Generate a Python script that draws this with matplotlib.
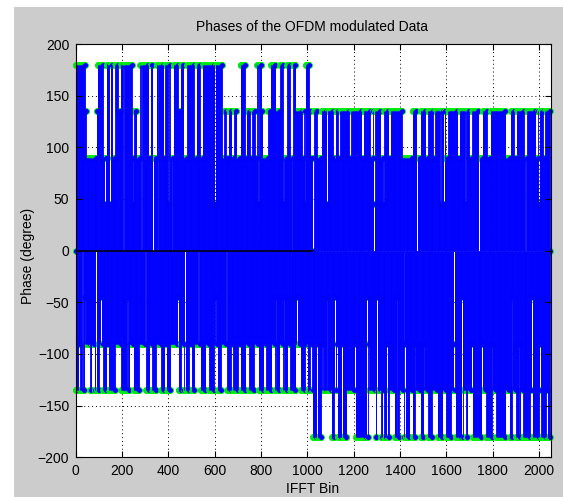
import numpy as np
import matplotlib
matplotlib.use("Agg")
import matplotlib.pyplot as plt
from matplotlib.patches import Rectangle

# ---------------- data ----------------
n_bins = 2048
half = 1024
x_ticks = [0, 200, 400, 600, 800, 1000, 1200, 1400, 1600, 1800, 2000]
y_ticks = [-200, -150, -100, -50, 0, 50, 100, 150, 200]
zero_bins = [0, 1024, 2047]

# phases (deg) of the upper-going stems: default for each half, then runs (first_bin, last_bin)
upper_default = [135, 135]
upper_runs_180 = [(0, 40), (95, 119), (133, 159), (171, 183), (196, 242), (279, 314), (323, 335),
                  (349, 378), (387, 407), (423, 442), (454, 465), (481, 511), (524, 537), (550, 630),
                  (711, 731), (783, 803), (841, 862), (883, 897), (913, 925), (939, 948), (991, 1006)]
upper_runs_90 = [(45, 90), (120, 132), (160, 170), (243, 253), (264, 278), (315, 322), (336, 348),
                 (379, 386), (408, 422), (466, 480), (512, 523), (538, 549), (631, 641), (650, 660),
                 (674, 682), (696, 710), (732, 739), (754, 761), (775, 782), (808, 830), (898, 912),
                 (926, 938), (977, 984), (1013, 1023),
                 (1042, 1061), (1111, 1121), (1133, 1140), (1179, 1189), (1233, 1243), (1272, 1282),
                 (1315, 1330), (1351, 1359), (1409, 1452), (1474, 1488), (1510, 1521), (1543, 1550),
                 (1596, 1606), (1647, 1657), (1697, 1711), (1740, 1757), (1776, 1791), (1855, 1877),
                 (1891, 1902), (1935, 1946), (1985, 1995), (2017, 2025)]
upper_runs_45 = [(126, 129), (147, 150), (248, 251), (399, 402), (600, 603), (788, 791), (896, 899),
                 (989, 992), (1083, 1086), (1292, 1295), (1328, 1331), (1573, 1576), (1587, 1590),
                 (1681, 1684), (1997, 2000)]
# columns without any upward stem
upper_runs_none = [(205, 208), (284, 287), (334, 337), (356, 359), (413, 416), (932, 935),
                   (1026, 1029), (1286, 1289), (1472, 1475), (1739, 1742), (1940, 1943)]

# phases (deg) of the lower-going stems
lower_default = [-135, -180]
lower_runs_135 = [(1058, 1104), (1117, 1128), (1171, 1205), (1267, 1294), (1303, 1317), (1324, 1332),
                  (1353, 1375), (1396, 1418), (1440, 1454), (1467, 1488), (1504, 1519), (1539, 1562),
                  (1584, 1598), (1620, 1639), (1672, 1684), (1690, 1712), (1756, 1771), (1798, 1814),
                  (1857, 1872), (1884, 1899), (1920, 1930), (1960, 1972), (2000, 2008), (2030, 2036)]
lower_runs_90 = [(12, 20), (38, 62), (70, 82), (102, 118), (135, 142), (170, 195), (232, 250),
                 (275, 300), (318, 330), (348, 370), (385, 392), (410, 440), (455, 468), (490, 500),
                 (515, 540), (560, 575), (598, 612), (628, 652), (670, 680), (700, 712), (735, 748),
                 (770, 790), (812, 822), (846, 860), (880, 894), (915, 925), (950, 970), (990, 1000),
                 (1012, 1020),
                 (1040, 1043), (1064, 1067), (1127, 1130), (1148, 1151), (1205, 1208), (1263, 1266),
                 (1342, 1345), (1421, 1424), (1465, 1468), (1501, 1504), (1637, 1640), (1709, 1712),
                 (1753, 1756), (1796, 1799), (1911, 1914), (2002, 2005)]
lower_runs_45 = [(40, 43), (108, 111), (222, 226), (441, 444), (603, 606), (862, 865), (897, 900),
                 (955, 958), (1083, 1086), (1119, 1122), (1256, 1259), (1299, 1302), (1385, 1388),
                 (1666, 1669), (1882, 1885), (1969, 1972)]
# columns without any downward stem
lower_runs_none = [(28, 31), (86, 89), (301, 304), (470, 473), (528, 531), (650, 653),
                   (1414, 1417), (1630, 1633)]

# ---------------- build the phase vector ----------------
upper = np.empty(n_bins)
upper[:half] = upper_default[0]
upper[half:] = upper_default[1]
for runs, p in [(upper_runs_180, 180), (upper_runs_90, 90), (upper_runs_45, 45)]:
    for a, b in runs:
        upper[a:b + 1] = p
lower = np.empty(n_bins)
lower[:half] = lower_default[0]
lower[half:] = lower_default[1]
for runs, p in [(lower_runs_135, -135), (lower_runs_90, -90), (lower_runs_45, -45)]:
    for a, b in runs:
        lower[a:b + 1] = p
up0, lo0 = upper.copy(), lower.copy()
for a, b in upper_runs_none:
    upper[a:b + 1] = lo0[a:b + 1]
for a, b in lower_runs_none:
    lower[a:b + 1] = up0[a:b + 1]
bins = np.arange(n_bins)
phase = np.where(bins % 2 == 0, upper, lower)
phase[zero_bins] = 0

# ---------------- figure ----------------
W, H = 563, 497
fig = plt.figure(figsize=(W / 100, H / 100), dpi=100)
fig.patch.set_facecolor("white")
fig.patches.append(Rectangle((14 / W, 0), 1 - 14 / W, 1 - 7 / H, transform=fig.transFigure,
                             facecolor="#cccccc", edgecolor="none", zorder=-10))

L, R, T, B = 75.5, 550.7, 44.0, 457.3
ax = fig.add_axes([L / W, 1 - B / H, (R - L) / W, (B - T) / H])
ax.set_facecolor("white")

for t in x_ticks[1:]:
    ax.axvline(t, color="black", lw=0.7, ls=(0, (1, 3)), zorder=1)
for t in y_ticks[1:-1]:
    ax.axhline(t, color="black", lw=0.7, ls=(0, (1, 3)), zorder=1)

ax.plot(bins, phase, "o", ms=4.3, mfc="#0000ff", mec="#00ff00", mew=0.6,
        zorder=1.8, clip_on=False)
ax.vlines(bins, 0, phase, colors="#0000ff", linewidth=0.65, zorder=2)
ax.plot([0, half - 1], [0, 0], color="black", lw=1.1, zorder=2.2)

ax.set_xlim(0, 2050)
ax.set_ylim(-200, 200)
ax.set_xticks(x_ticks)
ax.set_yticks(y_ticks)
ax.set_axisbelow(False)
ax.tick_params(direction="in", top=True, right=True, length=4, width=0.8,
               labelsize=10, pad=4.5)
for lab in ax.get_xticklabels() + ax.get_yticklabels():
    lab.set_family("Liberation Sans")
for s in ax.spines.values():
    s.set_linewidth(0.8)
    s.set_zorder(3)

fnt = dict(family="Liberation Sans", fontsize=10)
fig.text(312 / W, 1 - 27 / H, "Phases of the OFDM modulated Data", ha="center", va="center", **fnt)
fig.text(313 / W, 1 - 482 / H, "IFFT Bin", ha="center", va="top", **fnt)
fig.text(28 / W, 1 - 256 / H, "Phase (degree)", ha="center", va="center", rotation=90, **fnt)

fig.savefig("out.png", dpi=100)
